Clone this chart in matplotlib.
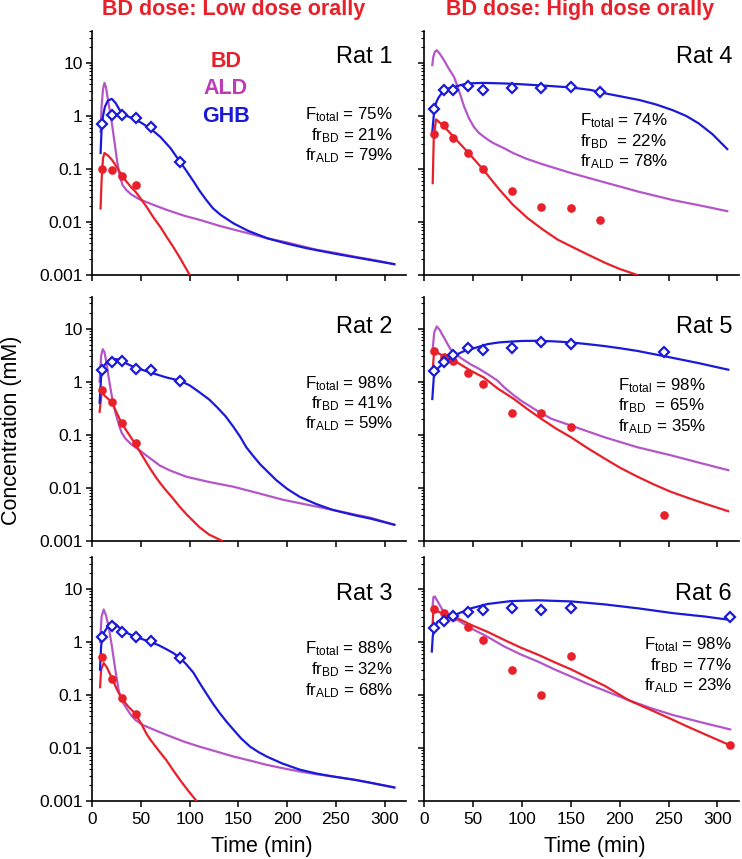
import matplotlib
matplotlib.use("Agg")
import matplotlib.pyplot as plt
from matplotlib.ticker import LogLocator, FixedLocator, NullFormatter, FixedFormatter

plt.rcParams['font.family'] = ['Liberation Sans', 'DejaVu Sans']
plt.rcParams['mathtext.fontset'] = 'custom'
plt.rcParams['mathtext.rm'] = 'Liberation Sans'
plt.rcParams['mathtext.it'] = 'Liberation Sans:italic'
plt.rcParams['mathtext.bf'] = 'Liberation Sans:bold'

# ---------------- data ----------------
t_low = [10, 20, 30, 45, 60, 90]
t_low_bd = [10, 20, 30, 45]
t_r4 = [10, 20, 30, 45, 60, 90, 120, 150, 180]
t_r5 = [10, 20, 30, 45, 60, 90, 120, 150, 245]
t_r6 = [10, 20, 30, 45, 60, 90, 120, 150, 313]

# Rat 1
r1_bd_obs = [0.10, 0.097, 0.074, 0.049]
r1_ghb_obs = [0.71, 1.03, 1.04, 0.92, 0.61, 0.137]
r1_bd_t = [8.5, 9.5, 11, 12.5, 16, 20, 25, 30, 35, 40, 45, 50, 56, 63, 70, 77, 83, 90, 100]
r1_bd = [0.018, 0.06, 0.16, 0.2, 0.18, 0.15, 0.11, 0.077, 0.058, 0.045, 0.036, 0.027, 0.019, 0.012, 0.008, 0.005, 0.0034, 0.0021, 0.001]
r1_ald_t = [8.5, 9.5, 11, 12.5, 14, 16.5, 18.5, 20.5, 23, 25.5, 28, 31, 35, 40, 48, 60, 76, 95, 110, 130, 145, 165, 180, 200, 215, 230, 250, 270, 290, 310]
r1_ald = [0.5, 1.5, 3.2, 4.2, 3.5, 1.8, 1.1, 0.65, 0.3, 0.14, 0.075, 0.05, 0.04, 0.033, 0.027, 0.022, 0.017, 0.013, 0.011, 0.0085, 0.0072, 0.0058, 0.0049, 0.0041, 0.0035, 0.003, 0.0026, 0.0022, 0.0019, 0.0016]
r1_ghb_t = [8.5, 9.5, 11, 13, 16, 20, 24, 28, 33, 40, 50, 60, 70, 80, 90, 97, 104, 110, 117, 124, 132, 145, 160, 180, 200, 220, 250, 280, 310]
r1_ghb = [0.2, 0.55, 1.0, 1.5, 1.95, 2.1, 1.75, 1.3, 1.05, 0.92, 0.75, 0.57, 0.4, 0.25, 0.137, 0.09, 0.058, 0.039, 0.026, 0.018, 0.0135, 0.0094, 0.0068, 0.0049, 0.0039, 0.0032, 0.0025, 0.002, 0.0016]

# Rat 2
r2_bd_obs = [0.71, 0.41, 0.165, 0.07]
r2_ghb_obs = [1.66, 2.38, 2.48, 1.73, 1.66, 1.04]
r2_bd_t = [7.5, 9.6, 12, 20, 30, 44, 50, 55, 60, 65, 70, 75, 83, 90, 97, 110, 120, 133]
r2_bd = [0.27, 0.63, 0.56, 0.41, 0.165, 0.067, 0.044, 0.031, 0.022, 0.016, 0.012, 0.0092, 0.0062, 0.0043, 0.0031, 0.0018, 0.0013, 0.001]
r2_ald_t = [7.5, 9, 10.7, 12.5, 14.5, 16.8, 20.2, 23.5, 27, 30, 34, 40, 44, 49, 55, 62, 69.5, 80, 97, 120, 145, 170, 196, 220, 247, 270, 286, 310]
r2_ald = [1.0, 3.0, 4.1, 3.6, 2.3, 1.2, 0.51, 0.27, 0.16, 0.11, 0.084, 0.066, 0.058, 0.05, 0.041, 0.033, 0.026, 0.021, 0.016, 0.0128, 0.0104, 0.0079, 0.0059, 0.0048, 0.0038, 0.0031, 0.0027, 0.002]
r2_ghb_t = [7.5, 9, 10, 12, 14.7, 18, 21.6, 25, 28.4, 35, 42, 50, 59, 76, 90, 100, 110, 120, 128, 137, 145, 152, 158, 165, 172, 180, 189, 200, 213, 230, 247, 270, 286, 310]
r2_ghb = [0.4, 1.2, 1.66, 2.0, 2.3, 2.5, 2.67, 2.65, 2.55, 2.2, 1.91, 1.7, 1.5, 1.2, 1.04, 0.85, 0.63, 0.46, 0.33, 0.22, 0.139, 0.09, 0.058, 0.04, 0.028, 0.02, 0.0138, 0.0095, 0.0067, 0.0049, 0.0038, 0.003, 0.0026, 0.002]

# Rat 3
r3_bd_obs = [0.53, 0.2, 0.089, 0.043]
r3_ghb_obs = [1.22, 2.03, 1.57, 1.26, 1.04, 0.5]
r3_bd_t = [8, 9, 11.7, 15, 20, 25, 30, 37, 41, 44, 47, 51, 56, 60, 68, 76, 83, 90, 98, 107]
r3_bd = [0.14, 0.3, 0.40, 0.33, 0.21, 0.13, 0.087, 0.06, 0.051, 0.044, 0.036, 0.027, 0.018, 0.014, 0.009, 0.0059, 0.0038, 0.0025, 0.0016, 0.001]
r3_ald_t = [8, 9.5, 11.7, 14, 16.8, 20.2, 23.6, 27, 30, 34, 40, 44, 52, 61, 76, 95, 110, 130, 145, 165, 179, 200, 213, 230, 247, 270, 286, 310]
r3_ald = [1.0, 3.0, 4.1, 3.2, 1.94, 0.81, 0.30, 0.124, 0.08, 0.06, 0.041, 0.034, 0.027, 0.023, 0.0177, 0.013, 0.0106, 0.0083, 0.0069, 0.0056, 0.0048, 0.004, 0.0036, 0.0032, 0.0029, 0.0025, 0.0022, 0.0018]
r3_ghb_t = [7.9, 9, 10, 12, 14.7, 18, 21.6, 25, 28.4, 35, 42, 50, 59, 68, 76, 83, 90, 97, 104, 110, 117, 124, 131, 138, 145, 153, 162, 170, 179, 195, 213, 230, 247, 270, 286, 310]
r3_ghb = [0.3, 0.8, 1.22, 1.5, 1.8, 2.1, 2.3, 2.1, 1.8, 1.5, 1.3, 1.15, 1.01, 0.87, 0.73, 0.62, 0.5, 0.37, 0.26, 0.17, 0.107, 0.068, 0.045, 0.031, 0.022, 0.015, 0.0106, 0.0085, 0.0069, 0.0051, 0.0039, 0.0033, 0.0029, 0.0025, 0.0022, 0.0018]

# Rat 4
r4_bd_obs = [0.45, 0.67, 0.39, 0.196, 0.098, 0.039, 0.019, 0.018, 0.011]
r4_ghb_obs = [1.38, 3.15, 3.06, 3.64, 3.06, 3.3, 3.38, 3.54, 2.85]
r4_bd_t = [8.9, 10, 12.3, 20, 31, 46, 61, 76, 91, 106, 121, 137, 150, 168, 185, 200, 218]
r4_bd = [0.054, 0.4, 0.86, 0.65, 0.39, 0.196, 0.095, 0.043, 0.021, 0.0118, 0.0073, 0.0046, 0.0035, 0.0024, 0.0017, 0.0013, 0.001]
r4_ald_t = [8.5, 9.5, 11, 13, 16, 20.5, 25, 30.8, 36, 41, 46, 51, 56, 61.6, 67, 72, 82, 91, 105, 121, 151, 186, 220, 254, 285, 310]
r4_ald = [9.1, 13, 16, 17.4, 15, 11.2, 8.0, 5.4, 2.9, 1.5, 0.9, 0.62, 0.48, 0.40, 0.34, 0.30, 0.245, 0.2, 0.155, 0.123, 0.083, 0.055, 0.037, 0.026, 0.02, 0.016]
r4_ghb_t = [8.5, 10.6, 13, 15.4, 20.5, 25, 30.8, 37, 44.5, 60, 82, 100, 121, 150, 170, 186, 203, 220, 237, 254, 268, 281, 295, 310]
r4_ghb = [0.5, 1.38, 1.9, 2.3, 3.06, 3.3, 3.5, 3.8, 4.1, 4.2, 4.1, 3.95, 3.75, 3.45, 3.1, 2.65, 2.3, 2.0, 1.65, 1.29, 1.0, 0.72, 0.45, 0.237]

# Rat 5
r5_bd_obs = [3.8, 2.95, 2.48, 1.43, 0.90, 0.254, 0.254, 0.139, 0.003]
r5_ghb_obs = [1.56, 2.38, 3.2, 4.4, 3.9, 4.4, 5.6, 5.1, 3.7]
r5_bd_t = [9, 10.5, 14, 20, 31, 48, 61, 75, 92, 105, 118, 135, 150, 167, 184, 200, 218, 235, 252, 270, 290, 311]
r5_bd = [1.8, 4.0, 3.5, 3.0, 2.48, 1.6, 1.2, 0.75, 0.47, 0.31, 0.21, 0.13, 0.09, 0.056, 0.036, 0.024, 0.0162, 0.0115, 0.0084, 0.0064, 0.0048, 0.0036]
r5_ald_t = [9, 10.5, 13, 16, 20, 27, 37.5, 48, 55, 65, 75, 82, 92, 99, 116, 130, 150, 184, 218, 252, 280, 311]
r5_ald = [4.4, 8.5, 11, 9.5, 7.0, 4.1, 2.8, 2.1, 1.8, 1.39, 1.05, 0.78, 0.55, 0.44, 0.28, 0.2, 0.149, 0.09, 0.058, 0.041, 0.03, 0.0214]
r5_ghb_t = [8.5, 10, 12, 15, 21, 31, 40, 48, 57, 65, 77, 89, 100, 116, 133, 150, 167, 184, 201, 218, 235, 252, 280, 311]
r5_ghb = [0.47, 1.2, 1.56, 1.85, 2.3, 3.1, 3.7, 4.1, 4.6, 5.1, 5.5, 5.7, 5.85, 5.9, 5.75, 5.5, 5.1, 4.7, 4.25, 3.8, 3.3, 2.86, 2.25, 1.68]

# Rat 6
r6_bd_obs = [4.1, 3.5, 3.0, 1.95, 1.09, 0.30, 0.1, 0.54, 0.0112]
r6_ghb_obs = [1.81, 2.49, 3.1, 3.7, 4.0, 4.3, 4.0, 4.4, 3.0]
r6_bd_t = [8.5, 9.6, 12, 20, 31, 48, 65, 82, 99, 117, 134, 151, 168, 185, 209, 230, 250, 270, 290, 313]
r6_bd = [1.7, 4.1, 3.9, 3.4, 3.0, 2.1, 1.55, 1.09, 0.78, 0.57, 0.41, 0.30, 0.21, 0.148, 0.08, 0.054, 0.037, 0.025, 0.0172, 0.0112]
r6_ald_t = [8.5, 9.6, 11, 14, 18.9, 24, 30, 48, 65, 82, 99, 116, 134, 151, 168, 185, 209, 230, 254, 288, 313]
r6_ald = [4.0, 7.0, 7.2, 5.8, 4.0, 3.3, 2.9, 1.81, 1.25, 0.82, 0.58, 0.43, 0.3, 0.22, 0.16, 0.12, 0.08, 0.058, 0.042, 0.029, 0.0224]
r6_ghb_t = [8, 9, 10.5, 13.7, 20, 31, 48, 65, 89, 117, 151, 185, 219, 254, 288, 313]
r6_ghb = [0.66, 1.3, 1.81, 2.4, 2.7, 3.2, 4.3, 5.2, 5.9, 6.1, 5.8, 5.1, 4.3, 3.5, 3.0, 2.6]

rat_names = ["Rat 1", "Rat 2", "Rat 3", "Rat 4", "Rat 5", "Rat 6"]
f_total = ["75%", "98%", "88%", "74%", "98%", "98%"]
fr_bd = ["21%", "41%", "32%", "22%", "65%", "77%"]
fr_ald = ["79%", "59%", "68%", "78%", "35%", "23%"]

col_titles = ["BD dose: Low dose orally", "BD dose: High dose orally"]
y_ticks = [0.001, 0.01, 0.1, 1, 10]
y_ticklabels = ["0.001", "0.01", "0.1", "1", "10"]
x_ticks = [0, 50, 100, 150, 200, 250, 300]

# ---------------- style ----------------
RED = '#e8202a'
BLUE = '#1a1ad8'
PURPLE = '#b556c8'
ALDTXT = '#c03cb4'

W, H = 742, 859
fig = plt.figure(figsize=(W / 100, H / 100), dpi=100)

def fx(px):
    return px / W

def fy(py):
    return 1 - py / H

col_x = [92.3, 424.0]
col_w = [313.7, 315.0]
row_bottom = [275.0, 540.7, 801.0]
row_h = 244.0

panels = [
    (r1_bd_t, r1_bd, r1_ald_t, r1_ald, r1_ghb_t, r1_ghb, t_low_bd, r1_bd_obs, t_low, r1_ghb_obs),
    (r2_bd_t, r2_bd, r2_ald_t, r2_ald, r2_ghb_t, r2_ghb, t_low_bd, r2_bd_obs, t_low, r2_ghb_obs),
    (r3_bd_t, r3_bd, r3_ald_t, r3_ald, r3_ghb_t, r3_ghb, t_low_bd, r3_bd_obs, t_low, r3_ghb_obs),
    (r4_bd_t, r4_bd, r4_ald_t, r4_ald, r4_ghb_t, r4_ghb, t_r4, r4_bd_obs, t_r4, r4_ghb_obs),
    (r5_bd_t, r5_bd, r5_ald_t, r5_ald, r5_ghb_t, r5_ghb, t_r5, r5_bd_obs, t_r5, r5_ghb_obs),
    (r6_bd_t, r6_bd, r6_ald_t, r6_ald, r6_ghb_t, r6_ghb, t_r6, r6_bd_obs, t_r6, r6_ghb_obs),
]

for i, p in enumerate(panels):
    col = i // 3
    row = i % 3
    ax = fig.add_axes([fx(col_x[col]), fy(row_bottom[row]), col_w[col] / W, row_h / H])
    bt, bv, at, av, gt, gv, tb, bo, tg, go = p
    ax.plot(at, av, color=PURPLE, lw=1.6, zorder=2, solid_joinstyle='round')
    ax.plot(bt, bv, color=RED, lw=1.6, zorder=3, solid_joinstyle='round')
    ax.plot(gt, gv, color=BLUE, lw=1.6, zorder=4, solid_joinstyle='round')
    ax.plot(tb, bo, 'o', color=RED, ms=5.2, mec=RED, zorder=5, clip_on=False)
    ax.plot(tg, go, 'D', color=BLUE, ms=4.7, mfc='white', mec=BLUE, mew=1.6, zorder=6, clip_on=False)

    ax.set_yscale('log')
    ax.set_ylim(0.001, 40)
    ax.set_xlim(0, 322)
    for s in ['top', 'right']:
        ax.spines[s].set_visible(False)
    for s in ['left', 'bottom']:
        ax.spines[s].set_linewidth(1.2)
    ax.yaxis.set_major_locator(FixedLocator(y_ticks))
    ax.yaxis.set_minor_locator(LogLocator(base=10, subs=range(2, 10), numticks=20))
    ax.yaxis.set_minor_formatter(NullFormatter())
    ax.xaxis.set_major_locator(FixedLocator(x_ticks))
    ax.tick_params(which='major', direction='out', length=4.5, width=1.1, labelsize=12.6, pad=2.5)
    ax.tick_params(which='minor', direction='out', length=2.3, width=0.8)
    if col == 0:
        ax.yaxis.set_major_formatter(FixedFormatter(y_ticklabels))
    else:
        ax.yaxis.set_major_formatter(NullFormatter())
    if row == 2:
        ax.xaxis.set_major_formatter(FixedFormatter([str(v) for v in x_ticks]))
        ax.tick_params(axis='x', labelsize=12.4, pad=3.5)
    else:
        ax.xaxis.set_major_formatter(NullFormatter())

# column titles
for col, cx in enumerate([234, 580]):
    fig.text(fx(cx), fy(15.5), col_titles[col], color=RED, fontsize=15.5,
             fontweight='bold', ha='center', va='baseline')

# legend labels
for lab, c, by in [("BD", RED, 67), ("ALD", ALDTXT, 94), ("GHB", BLUE, 121.5)]:
    fig.text(fx(226), fy(by), lab, color=c, fontsize=15.5, fontweight='bold',
             ha='center', va='baseline')

# rat names
rat_base = [63, 333, 600]
for i, name in enumerate(rat_names):
    col = i // 3
    row = i % 3
    rx = 393 if col == 0 else 732
    fig.text(fx(rx), fy(rat_base[row]), name, fontsize=17, ha='right', va='baseline')

# F texts
f_layout = [
    (393, 'right', [119.3, 140, 160.7]),
    (393, 'right', [388.3, 408.3, 428.3]),
    (393, 'right', [653.3, 674, 695]),
    (580.3, 'left', [125, 146.7, 166.7]),
    (618.3, 'left', [390, 410.7, 431.7]),
    (732, 'right', [649.3, 670, 690.7]),
]
for i in range(6):
    x, ha, ys = f_layout[i]
    gap = '  ' if ha == 'left' else ' '
    lines = [r'F$_\mathrm{total}$ = ' + f_total[i],
             r'fr$_\mathrm{BD}$' + gap + '= ' + fr_bd[i],
             r'fr$_\mathrm{ALD}$ = ' + fr_ald[i]]
    for ln, yy in zip(lines, ys):
        fig.text(fx(x), fy(yy), ln, fontsize=12.2, ha=ha, va='baseline')

# axis labels
fig.text(fx(12), fy(430), 'Concentration (mM)', fontsize=15.5, rotation=90,
         ha='center', va='center')
for cx in [261.5, 594.7]:
    fig.text(fx(cx), fy(852), 'Time (min)', fontsize=15.5, ha='center', va='baseline')

fig.savefig('out.png', dpi=100)
